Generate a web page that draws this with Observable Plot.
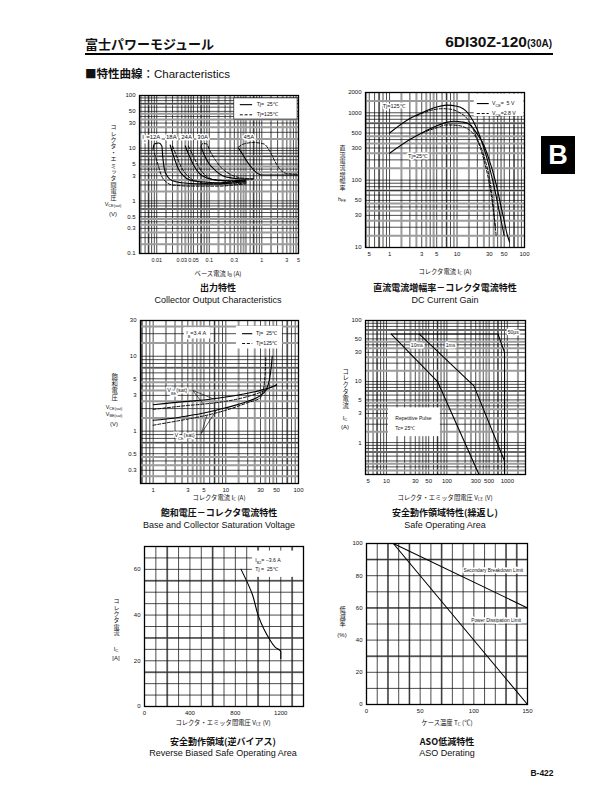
<!DOCTYPE html>
<html><head><meta charset="utf-8">
<script src="https://cdn.jsdelivr.net/npm/d3@7"></script>
<script src="https://cdn.jsdelivr.net/npm/@observablehq/plot@0.6"></script>
<style>
body{margin:0;background:#fff}
#page{position:relative;width:612px;height:792px;overflow:hidden;background:#fff;color:#111;font-family:"Liberation Sans",Arial,sans-serif}
.abs{position:absolute;white-space:nowrap;line-height:1}
.jp{font-family:"Noto Sans CJK JP","Liberation Sans",sans-serif}
.vt{writing-mode:vertical-rl;font-family:"Noto Sans CJK JP",sans-serif}
sub{font-size:0.7em;vertical-align:-0.2em;line-height:0}
</style></head>
<body><div id="page"></div>
<script>
// ================= DATA =================
// Chart 1: Collector Output Characteristics  VCE(sat) [V] vs IB [A]
const outIc = ["12A", "18A", "24A", "30A", "45A"];
const outSolid = [
  [[0.0085,9.5],[0.009,12],[0.011,12.5],[0.0125,11],[0.013,7],[0.014,4],[0.016,2.9],[0.02,2.4],[0.03,2.2],[0.06,2.1],[0.15,2.1],[0.3,2.2],[0.5,2.3]],
  [[0.018,11.5],[0.021,7],[0.026,4],[0.032,3],[0.042,2.5],[0.07,2.3],[0.15,2.2],[0.3,2.3],[0.5,2.4]],
  [[0.035,11],[0.042,7],[0.052,4.5],[0.065,3.3],[0.09,2.7],[0.13,2.5],[0.25,2.4],[0.5,2.5]],
  [[0.07,10.5],[0.08,7.5],[0.1,5],[0.13,3.8],[0.18,3.0],[0.28,2.7],[0.45,2.6],[0.7,2.6]],
  [[0.36,10],[0.42,8],[0.5,6],[0.65,4.2],[0.8,3.4],[1,3.1],[2,3.1],[5,3.1]]
];
const outDashed = [
  [[0.009,8],[0.0105,5],[0.012,3.2],[0.015,2.3],[0.02,2.0],[0.05,1.9],[0.15,1.9],[0.3,2.0],[0.5,2.1]],
  [[0.02,11],[0.024,7],[0.03,4.2],[0.04,2.9],[0.06,2.3],[0.1,2.1],[0.3,2.1],[0.5,2.2]],
  [[0.04,11],[0.05,7],[0.062,4.5],[0.08,3.2],[0.11,2.6],[0.18,2.4],[0.5,2.3]],
  [[0.07,11],[0.075,12.3],[0.09,12],[0.1,9.5],[0.13,6],[0.18,4],[0.25,3.2],[0.35,2.8],[0.5,2.65],[0.7,2.6]],
  [[0.36,10.5],[0.45,12],[0.7,12.8],[1.1,12],[1.4,9],[1.8,5.5],[2.2,4],[3,3.3],[5,3.2]]
];
const outLabels = ["I_c=12A", "18A", "24A", "30A", "45A"];
const outLabelX = [0.0079, 0.019, 0.037, 0.075, 0.57];
const outLabelY = 16;
const outXTicks = [0.01, 0.03, 0.05, 0.1, 0.3, 1, 3, 5];
const outYTicks = [0.1, 0.3, 0.5, 1, 3, 5, 10, 30, 50, 100];

// Chart 2: DC Current Gain  hFE vs IC [A]
const gainTj125V5  = [[1,500],[2,820],[3,1000],[5,1220],[7,1300],[10,1250],[15,950],[20,560],[25,300],[30,160],[35,85],[40,45],[45,25],[50,15]];
const gainTj125V28 = [[2.5,900],[4,1080],[6,1150],[8,1130],[10,1050],[15,750],[20,400],[25,200],[30,90],[33,50],[36,25],[38,15]];
const gainTj25V5   = [[1,250],[2,400],[3,500],[5,640],[7,720],[9,750],[12,730],[15,680],[20,480],[25,330],[30,200],[35,120],[40,70],[45,40],[50,25],[55,16],[60,12]];
const gainTj25V28  = [[3,500],[5,600],[7,660],[10,650],[15,560],[20,400],[25,230],[30,110],[33,60],[35,35],[37,20]];
const gainXTicks = [0.5, 1, 3, 5, 10, 30, 50, 100];
const gainXLabels = ["5", "1", "3", "5", "10", "30", "50", "100"];
const gainYTicks = [10, 30, 50, 100, 300, 500, 1000, 2000];

// Chart 3: Base and Collector Saturation Voltage  V vs IC [A]
const satVbeTj25  = [[1,2.25],[3,2.5],[5,2.6],[10,2.85],[20,3.2],[30,3.5],[40,3.8],[50,4.1]];
const satVbeTj125 = [[1,1.95],[3,2.2],[5,2.3],[10,2.5],[20,2.9],[30,3.3],[40,3.75],[50,4.2]];
const satVceTj25  = [[1,1.4],[2,1.5],[3,1.6],[5,1.75],[10,2.05],[20,2.5],[30,3.0],[36,3.6],[40,5],[42,7],[43.5,10]];
const satVceTj125 = [[1,1.2],[2,1.35],[3,1.45],[5,1.6],[10,1.9],[20,2.4],[30,2.8],[32,3.3],[34,4.5],[35,6.5],[35.5,10]];
const satXTicks = [1, 3, 5, 10, 30, 50, 100];
const satYTicks = [0.3, 0.5, 1, 3, 5, 10, 30];

// Chart 4: Safe Operating Area (repetitive)  IC [A] vs VCE [V]
const soaTop   = [[12,60],[700,60]];
const soa10ms  = [[12,60],[70,10],[340,0.3]];
const soa1ms   = [[35,60],[280,8.5],[900,0.5]];
const soa50us  = [[700,60],[900,30],[900,0.3]];
const soaXTicks = [5, 10, 30, 50, 100, 300, 500, 1000];
const soaYTicks = [1, 3, 5, 10, 30, 50, 100];

// Chart 5: Reverse Biased SOA  IC [A] vs VCE [V]
const rbsoaCurve = [[850,60],[950,49],[1000,40],[1050,34],[1100,29.5],[1150,26],[1200,24],[1200,21]];
const rbsoaXTicks = [0, 400, 800, 1200];
const rbsoaYTicks = [0, 20, 40, 60];

// Chart 6: ASO Derating  % vs Tc [°C]
const derateSecondary = [[25,100],[150,60]];
const derateDissipation = [[25,100],[150,0]];
const derateXTicks = [0, 50, 100, 150];
const derateYTicks = [0, 20, 40, 60, 80, 100];

// ================= HELPERS =================
const FONT = "Liberation Sans, Arial, sans-serif";
const page = document.getElementById("page");
const pts = a => a.map(([x, y]) => ({x, y}));

function put(html, x, y, o = {}) {
  const d = document.createElement("div");
  d.className = "abs" + (o.jp ? " jp" : "");
  d.innerHTML = html;
  const tx = o.anchor === "middle" ? "-50%" : o.anchor === "end" ? "-100%" : "0";
  Object.assign(d.style, {left: x + "px", top: y + "px", fontSize: (o.size || 6) + "px",
    fontWeight: o.bold ? "bold" : "normal", transform: `translate(${tx},-50%)`});
  if (o.style) Object.assign(d.style, o.style);
  page.appendChild(d);
  return d;
}
function vput(text, x, y, size = 6, ls = 0.3) {
  const d = document.createElement("div");
  d.className = "abs vt";
  d.textContent = text;
  Object.assign(d.style, {left: x + "px", top: y + "px", fontSize: size + "px", letterSpacing: ls + "px", transform: "translateX(-50%)"});
  page.appendChild(d);
}
function subify(root) {
  root.querySelectorAll("text").forEach(t => {
    const targets = t.querySelector("tspan") ? [...t.querySelectorAll("tspan")] : [t];
    targets.forEach(el => {
      const s = el.textContent;
      if (!s.includes("_")) return;
      el.textContent = "";
      s.split(/_([A-Za-z0-9]+)/).forEach((p, i) => {
        if (!p) return;
        const ts = document.createElementNS("http://www.w3.org/2000/svg", "tspan");
        ts.textContent = p;
        if (i % 2) { ts.setAttribute("font-size", "0.72em"); ts.setAttribute("baseline-shift", "sub"); }
        el.appendChild(ts);
      });
    });
  });
}
function logVals([lo, hi], mants) {
  const out = [];
  for (let k = Math.floor(Math.log10(lo)) - 1; k <= Math.ceil(Math.log10(hi)); k++)
    for (const m of mants) { const v = +(m * Math.pow(10, k)).toPrecision(6); if (v > lo * 1.001 && v < hi * 0.999) out.push(v); }
  return out;
}
function linVals([lo, hi], step, off = 0) {
  const out = [];
  for (let v = lo + off; v < hi - 1e-9; v += step) if (v > lo + 1e-9) out.push(+v.toFixed(6));
  return out;
}
const GRAY = {stroke: "#9c9c9c", strokeWidth: 2};
const BLACK = {stroke: "#111", strokeWidth: 0.75};
function logGrid(dom, axis) {
  const R = axis === "x" ? Plot.ruleX : Plot.ruleY;
  return [R(logVals(dom, [1.5, 2.5, 3.5, 4.5, 7]), GRAY),
          R(logVals(dom, [1, 2, 3, 4, 5, 6, 7, 8, 9]), BLACK)];
}
function chart({frame: [l, t, r, b], x, y, xt, xl, yt, grid, marks, tickSize = 6}) {
  const ml = 40, mr = 12, mt = 10, mb = 20;
  const svg = Plot.plot({
    width: r - l + ml + mr, height: b - t + mt + mb,
    marginLeft: ml, marginRight: mr, marginTop: mt, marginBottom: mb,
    x: {...x, axis: null}, y: {...y, axis: null},
    style: {background: "transparent", fontFamily: FONT, fontSize: "6px", color: "#111", overflow: "visible"},
    marks: [
      ...grid,
      ...marks,
      Plot.frame({stroke: "#000", strokeWidth: 1.3}),
      Plot.text(xt, {x: d => d, frameAnchor: "bottom", dy: 8, text: (d, i) => xl ? xl[i] : String(d), fontSize: tickSize}),
      Plot.text(yt, {y: d => d, frameAnchor: "left", dx: -4, textAnchor: "end", text: d => String(d), fontSize: 6})
    ]
  });
  Object.assign(svg.style, {position: "absolute", left: (l - ml) + "px", top: (t - mt) + "px"});
  subify(svg);
  page.appendChild(svg);
}
const solid = {stroke: "#000", strokeWidth: 1.1};
const dashed = {stroke: "#000", strokeWidth: 0.95, strokeDasharray: "3,1.8"};
const halo = {stroke: "white", strokeWidth: 3, fill: "#111"};

// ================= HEADER =================
put("富士パワーモジュール", 85, 43, {size: 13, bold: true, jp: true});
put('6DI30Z-120<span style="font-size:10px">(30A)</span>', 552, 42, {size: 15.5, bold: true, anchor: "end"});
const rule = document.createElement("div");
Object.assign(rule.style, {position: "absolute", left: "85px", top: "53px", width: "468px", height: "2px", background: "#000"});
page.appendChild(rule);
put('<b>■特性曲線</b>：<span style="font-family:Liberation Sans,Arial">Characteristics</span>', 85, 74, {size: 11.5, jp: true});
const tab = document.createElement("div");
Object.assign(tab.style, {position: "absolute", left: "541px", top: "136px", width: "34px", height: "38px", background: "#000",
  color: "#fff", font: "bold 27px Liberation Sans, Arial", display: "flex", alignItems: "center", justifyContent: "center"});
tab.textContent = "B";
page.appendChild(tab);
put("B-422", 542, 773, {size: 8.5, bold: true, anchor: "middle"});

// ================= CHART 1 =================
{
  const dx = [0.0047, 5], dy = [0.1, 100];
  const rowsS = outSolid.flatMap((s, i) => pts(s).map(p => ({...p, ic: outIc[i]})));
  const rowsD = outDashed.flatMap((s, i) => pts(s).map(p => ({...p, ic: outIc[i]})));
  const legBox = [{x1: 0.3, x2: 4.8, y1: 35, y2: 88}];
  const legLines = [{x1: 0.39, x2: 0.67, y: 67, dash: false, t: "Tj=  25℃"}, {x1: 0.39, x2: 0.67, y: 43, dash: true, t: "Tj=125℃"}];
  chart({frame: [139, 95, 298, 253], x: {type: "log", domain: dx}, y: {type: "log", domain: dy},
    xt: outXTicks, yt: outYTicks, tickSize: 5.4, grid: [...logGrid(dx, "x"), ...logGrid(dy, "y")],
    marks: [
      Plot.rect(legBox, {x1: "x1", x2: "x2", y1: "y1", y2: "y2", fill: "white", stroke: "#000", strokeWidth: 0.6}),
      Plot.ruleY(legLines.filter(d => !d.dash), {x1: "x1", x2: "x2", y: "y", ...solid}),
      Plot.ruleY(legLines.filter(d => d.dash), {x1: "x1", x2: "x2", y: "y", ...dashed}),
      Plot.text(legLines, {x: 0.8, y: "y", text: "t", textAnchor: "start", fontSize: 5.2}),
      Plot.line(rowsS, {x: "x", y: "y", z: "ic", curve: "monotone-x", ...solid}),
      Plot.line(rowsD, {x: "x", y: "y", z: "ic", curve: "monotone-x", ...dashed}),
      Plot.text(outLabels, {x: (d, i) => outLabelX[i], y: outLabelY, text: d => d, fontSize: 6, ...halo})
    ]});
  vput("コレクタ・エミッタ間電圧", 113, 124, 6, 0.4);
  put("V<sub>CE(sat)</sub>", 113, 205, {size: 5.5, anchor: "middle"});
  put("(V)", 113, 214, {size: 6, anchor: "middle"});
  put("ベース電流 I<sub>B</sub> (A)", 218, 274, {size: 6.3, anchor: "middle", jp: true});
  put("出力特性", 218, 287, {size: 9, bold: true, anchor: "middle", jp: true});
  put("Collector Output Characteristics", 218, 300, {size: 9, anchor: "middle"});
}

// ================= CHART 2 =================
{
  const dx = [0.44, 100], dy = [10, 2000];
  const legLines = [{x1: 20, x2: 30, y: 1370, dash: false, t: "V_CE=  5 V"}, {x1: 20, x2: 30, y: 975, dash: true, t: "V_CE=2.8 V"}];
  const tjLabels = [{x: 1.15, y: 1240, t: "Tj=125℃"}, {x: 2.6, y: 225, t: "Tj=25℃"}];
  chart({frame: [365, 92, 524, 247], x: {type: "log", domain: dx}, y: {type: "log", domain: dy},
    xt: gainXTicks, xl: gainXLabels, yt: gainYTicks, grid: [...logGrid(dx, "x"), ...logGrid(dy, "y")],
    marks: [
      Plot.rect([{x1: 18, x2: 98, y1: 880, y2: 1900}], {x1: "x1", x2: "x2", y1: "y1", y2: "y2", fill: "white"}),
      Plot.ruleY(legLines.filter(d => !d.dash), {x1: "x1", x2: "x2", y: "y", ...solid}),
      Plot.ruleY(legLines.filter(d => d.dash), {x1: "x1", x2: "x2", y: "y", ...dashed}),
      Plot.text(legLines, {x: 33, y: "y", text: "t", textAnchor: "start", fontSize: 5.2}),
      Plot.line(pts(gainTj125V5), {x: "x", y: "y", curve: "monotone-x", ...solid}),
      Plot.line(pts(gainTj125V28), {x: "x", y: "y", curve: "monotone-x", ...dashed}),
      Plot.line(pts(gainTj25V5), {x: "x", y: "y", curve: "monotone-x", ...solid}),
      Plot.line(pts(gainTj25V28), {x: "x", y: "y", curve: "monotone-x", ...dashed}),
      Plot.text(tjLabels, {x: "x", y: "y", text: "t", fontSize: 5.5, ...halo})
    ]});
  vput("直流電流増幅率", 342, 145, 6, 0.6);
  put("h<sub>FE</sub>", 342, 200, {size: 5.5, anchor: "middle"});
  put("コレクタ電流 I<sub>C</sub> (A)", 445, 272, {size: 6.3, anchor: "middle", jp: true});
  put("直流電流増幅率－コレクタ電流特性", 445, 287, {size: 9, bold: true, anchor: "middle", jp: true});
  put("DC Current Gain", 445, 300, {size: 9, anchor: "middle"});
}

// ================= CHART 3 =================
{
  const dx = [0.67, 100], dy = [0.2, 30];
  const legLines = [{x1: 17, x2: 23.5, y: 20, dash: false, t: "Tj=  25℃"}, {x1: 17, x2: 23.5, y: 14.8, dash: true, t: "Tj=125℃"}];
  const notes = [{x: 3.9, y: 20, t: "I_B=3.4 A"}, {x: 2.15, y: 3.55, t: "V_BE(sat)"}, {x: 2.7, y: 0.88, t: "V_CE(sat)"}];
  const leaders = [
    {x1: 3.5, y1: 3.5, x2: 6.7, y2: 2.7}, {x1: 3.5, y1: 3.5, x2: 4.9, y2: 2.3},
    {x1: 4.6, y1: 0.93, x2: 5.5, y2: 1.62}, {x1: 4.6, y1: 0.93, x2: 7.4, y2: 1.9}
  ];
  chart({frame: [140, 320, 298, 483], x: {type: "log", domain: dx}, y: {type: "log", domain: dy},
    xt: satXTicks, yt: satYTicks, grid: [...logGrid(dx, "x"), ...logGrid(dy, "y")],
    marks: [
      Plot.rect([{x1: 2.7, x2: 6.2, y1: 17, y2: 24}, {x1: 14, x2: 60, y1: 12.5, y2: 25}], {x1: "x1", x2: "x2", y1: "y1", y2: "y2", fill: "white"}),
      Plot.ruleY(legLines.filter(d => !d.dash), {x1: "x1", x2: "x2", y: "y", ...solid}),
      Plot.ruleY(legLines.filter(d => d.dash), {x1: "x1", x2: "x2", y: "y", ...dashed}),
      Plot.text(legLines, {x: 26, y: "y", text: "t", textAnchor: "start", fontSize: 5.2}),
      Plot.line(pts(satVbeTj25), {x: "x", y: "y", curve: "monotone-x", ...solid}),
      Plot.line(pts(satVbeTj125), {x: "x", y: "y", curve: "monotone-x", ...dashed}),
      Plot.line(pts(satVceTj25), {x: "x", y: "y", curve: "monotone-x", ...solid}),
      Plot.line(pts(satVceTj125), {x: "x", y: "y", curve: "monotone-x", ...dashed}),
      Plot.link(leaders, {x1: "x1", y1: "y1", x2: "x2", y2: "y2", stroke: "#000", strokeWidth: 0.6}),
      Plot.text(notes, {x: "x", y: "y", text: "t", fontSize: 5.5, ...halo})
    ]});
  vput("飽和電圧", 114, 373, 6.3, 0.9);
  put("V<sub>CE(sat)</sub>", 114, 408, {size: 5.5, anchor: "middle"});
  put("V<sub>BE(sat)</sub>", 114, 415, {size: 5.5, anchor: "middle"});
  put("(V)", 114, 424, {size: 6, anchor: "middle"});
  put("コレクタ電流 I<sub>C</sub> (A)", 219, 498, {size: 6.3, anchor: "middle", jp: true});
  put("飽和電圧－コレクタ電流特性", 219, 512, {size: 9, bold: true, anchor: "middle", jp: true});
  put("Base and Collector Saturation Voltage", 219, 525, {size: 9, anchor: "middle"});
}

// ================= CHART 4 =================
{
  const dx = [4.5, 2000], dy = [0.3, 100];
  const tags = [{x: 32, y: 39, t: "10ms"}, {x: 115, y: 39, t: "1ms"}, {x: 1250, y: 64, t: "50µs"}];
  const box = [{x1: 10.8, x2: 78, y1: 1.25, y2: 3.7}];
  const boxText = [{y: 2.5, t: "Repetitive Pulse"}, {y: 1.72, t: "Tc= 25℃"}];
  chart({frame: [365, 320, 525, 474], x: {type: "log", domain: dx}, y: {type: "log", domain: dy},
    xt: soaXTicks, yt: soaYTicks, grid: [...logGrid(dx, "x"), ...logGrid(dy, "y")],
    marks: [
      Plot.rect(box, {x1: "x1", x2: "x2", y1: "y1", y2: "y2", fill: "white"}),
      Plot.text(boxText, {x: 14, y: "y", text: "t", textAnchor: "start", fontSize: 5}),
      Plot.line(pts(soaTop), {x: "x", y: "y", ...solid}),
      Plot.line(pts(soa10ms), {x: "x", y: "y", ...solid}),
      Plot.line(pts(soa1ms), {x: "x", y: "y", ...solid}),
      Plot.line(pts(soa50us), {x: "x", y: "y", ...solid}),
      Plot.text(tags, {x: "x", y: "y", text: "t", fontSize: 5, ...halo})
    ]});
  vput("コレクタ電流", 345, 368, 6.3, 0.5);
  put("I<sub>C</sub>", 345, 418, {size: 6, anchor: "middle"});
  put("(A)", 345, 427, {size: 6, anchor: "middle"});
  put("コレクタ・エミッタ間電圧 V<sub>CE</sub> (V)", 445, 498, {size: 6.3, anchor: "middle", jp: true});
  put("安全動作領域特性(繰返し)", 445, 512, {size: 9, bold: true, anchor: "middle", jp: true});
  put("Safe Operating Area", 445, 525, {size: 9, anchor: "middle"});
}

// ================= CHART 5 =================
{
  const dx = [0, 1400], dy = [0, 70];
  const leg = [{x: 975, y: 63.8, t: "I_B2= −3.6 A"}, {x: 975, y: 60.2, t: "Tj =  25℃"}];
  chart({frame: [144, 546, 303, 706], x: {domain: dx}, y: {domain: dy},
    xt: rbsoaXTicks, yt: rbsoaYTicks,
    grid: [Plot.ruleX([200, 600, 1000, 1300], GRAY),
           Plot.ruleY([15, 30, 55], GRAY),
           Plot.ruleX(linVals(dx, 100), BLACK),
           Plot.ruleY(linVals(dy, 5), BLACK)],
    marks: [
      Plot.rect([{x1: 950, x2: 1400, y1: 56.5, y2: 68}], {x1: "x1", x2: "x2", y1: "y1", y2: "y2", fill: "white"}),
      Plot.text(leg, {x: "x", y: "y", text: "t", textAnchor: "start", fontSize: 5.2}),
      Plot.line(pts(rbsoaCurve), {x: "x", y: "y", curve: "monotone-y", ...solid})
    ]});
  vput("コレクタ電流", 116, 598, 6, 0.4);
  put("I<sub>C</sub>", 116, 649, {size: 6, anchor: "middle"});
  put("[A]", 116, 658, {size: 6, anchor: "middle"});
  put("コレクタ・エミッタ間電圧 V<sub>CE</sub> (V)", 223, 723, {size: 6.3, anchor: "middle", jp: true});
  put("安全動作領域(逆バイアス)", 223, 741, {size: 9, bold: true, anchor: "middle", jp: true});
  put("Reverse Biased Safe Operating Area", 223, 753, {size: 9, anchor: "middle"});
}

// ================= CHART 6 =================
{
  const dx = [0, 150], dy = [0, 100];
  const tags = [{x: 146, y: 83, t: "Secondary Breakdown Limit"}, {x: 144, y: 52, t: "Power Dissipation Limit"}];
  chart({frame: [366, 543, 527, 704], x: {domain: dx}, y: {domain: dy},
    xt: derateXTicks, yt: derateYTicks,
    grid: [Plot.ruleX([20, 40, 70, 130, 140], GRAY),
           Plot.ruleY([30, 60, 90], GRAY),
           Plot.ruleX(linVals(dx, 10), BLACK),
           Plot.ruleY(linVals(dy, 10), BLACK)],
    marks: [
      Plot.line(pts(derateSecondary), {x: "x", y: "y", ...solid}),
      Plot.line(pts(derateDissipation), {x: "x", y: "y", ...solid}),
      Plot.text(tags, {x: "x", y: "y", text: "t", textAnchor: "end", fontSize: 4.8, ...halo})
    ]});
  vput("低減率", 342, 606, 6.3, 0.9);
  put("(%)", 342, 635, {size: 6, anchor: "middle"});
  put("ケース温度 T<sub>C</sub> (℃)", 447, 723, {size: 6.3, anchor: "middle", jp: true});
  put("ASO低減特性", 447, 741, {size: 9, bold: true, anchor: "middle", jp: true});
  put("ASO Derating", 447, 753, {size: 9, anchor: "middle"});
}
</script>
</body></html>
